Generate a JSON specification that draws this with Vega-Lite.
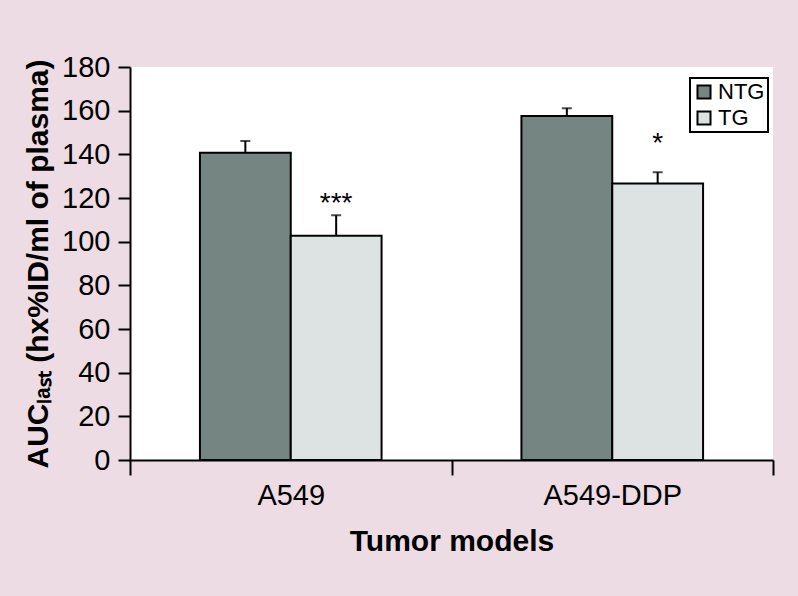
{
  "$schema": "https://vega.github.io/schema/vega-lite/v6.json",
  "width": 643,
  "height": 393,
  "autosize": {"type": "none"},
  "padding": {"left": 130, "top": 67, "right": 25, "bottom": 136},
  "background": "#eedce4",
  "config": {
    "view": {"fill": "white", "stroke": null},
    "font": "Liberation Sans",
    "axis": {
      "domainColor": "black", "domainWidth": 2, "tickColor": "black", "tickWidth": 2,
      "labelColor": "black", "labelFont": "Liberation Sans", "labelFontSize": 29,
      "titleFont": "Liberation Sans", "titleFontSize": 30, "titleFontWeight": "bold", "titleColor": "black",
      "grid": false
    },
    "legend": {
      "orient": "none", "legendX": 560, "legendY": 11,
      "fillColor": "white", "strokeColor": "black", "strokeWidth": 2, "padding": 3,
      "symbolType": "square", "symbolSize": 170, "symbolStrokeColor": "black", "symbolStrokeWidth": 2,
      "labelFont": "Liberation Sans", "labelFontSize": 22, "labelColor": "black", "rowPadding": 4, "labelOffset": 3
    }
  },
  "data": {
    "values": [
      {"model": "A549", "group": "NTG", "value": 140.7, "upper": 146.1, "sig": "", "sig_y": null},
      {"model": "A549", "group": "TG", "value": 102.7, "upper": 112.1, "sig": "***", "sig_y": 113.5},
      {"model": "A549-DDP", "group": "NTG", "value": 157.6, "upper": 161.1, "sig": "", "sig_y": null},
      {"model": "A549-DDP", "group": "TG", "value": 126.6, "upper": 131.8, "sig": "*", "sig_y": 141}
    ]
  },
  "encoding": {
    "x": {
      "field": "model", "type": "nominal", "title": "Tumor models",
      "scale": {"paddingInner": 0, "paddingOuter": 0},
      "axis": {"labelAngle": 0, "tickBand": "extent", "tickSize": 15, "labelPadding": 6, "titlePadding": 16}
    },
    "xOffset": {
      "field": "group", "type": "nominal",
      "scale": {"domain": ["NTG", "TG"], "paddingInner": 0, "paddingOuter": 0.77}
    }
  },
  "layer": [
    {
      "mark": {"type": "bar", "stroke": "black", "strokeWidth": 2},
      "encoding": {
        "y": {
          "field": "value", "type": "quantitative",
          "title": "AUCₗₐₛₜ (hx%ID/ml of plasma)",
          "scale": {"domain": [0, 180], "nice": false},
          "axis": {"values": [0, 20, 40, 60, 80, 100, 120, 140, 160, 180], "tickSize": 12, "labelPadding": 8, "titlePadding": 8}
        },
        "color": {
          "field": "group", "type": "nominal", "title": null,
          "scale": {"domain": ["NTG", "TG"], "range": ["#748582", "#dde3e2"]}
        }
      }
    },
    {
      "mark": {"type": "rule", "color": "black", "strokeWidth": 2},
      "encoding": {
        "y": {"field": "value", "type": "quantitative"},
        "y2": {"field": "upper"}
      }
    },
    {
      "mark": {"type": "tick", "color": "black", "size": 10, "thickness": 2, "orient": "horizontal"},
      "encoding": {
        "y": {"field": "upper", "type": "quantitative"}
      }
    },
    {
      "transform": [{"filter": "datum.sig != ''"}],
      "mark": {"type": "text", "fontSize": 28, "color": "black", "baseline": "alphabetic", "font": "Liberation Sans"},
      "encoding": {
        "y": {"field": "sig_y", "type": "quantitative"},
        "text": {"field": "sig"}
      }
    }
  ]
}
